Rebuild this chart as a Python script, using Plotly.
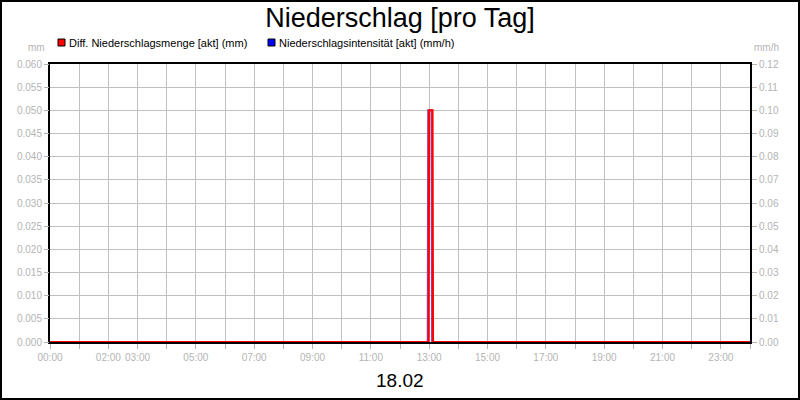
import plotly.graph_objects as go

# Diff. Niederschlagsmenge (mm), left axis
menge_time = ["2024-02-18 00:00", "2024-02-18 12:59", "2024-02-18 13:00",
              "2024-02-18 13:07", "2024-02-18 13:08", "2024-02-19 00:00"]
menge_val = [0.0, 0.0, 0.05, 0.05, 0.0, 0.0]

# Niederschlagsintensität (mm/h), right axis
intens_time = ["2024-02-18 00:00", "2024-02-18 12:57", "2024-02-18 12:58",
               "2024-02-18 13:05", "2024-02-18 13:06", "2024-02-19 00:00"]
intens_val = [0.0, 0.0, 0.10, 0.10, 0.0, 0.0]

hours = [f"2024-02-18 {h:02d}:00" for h in range(24)] + ["2024-02-19 00:00"]
labelled = {0, 2, 3, 5, 7, 9, 11, 13, 15, 17, 19, 21, 23}
hour_text = [f"{h:02d}:00" if h in labelled else "" for h in range(25)]

legend_names = ["Diff. Niederschlagsmenge [akt] (mm)", "Niederschlagsintensität [akt] (mm/h)"]
legend_colors = ["#ff0000", "#0000ff"]

grey = "#b4b4b4"
font = "Liberation Sans, Arial, sans-serif"

# plot area in pixels: x 50..750, y 64..342
def px(x):
    return (x - 50) / 700


def py(y):
    return (342 - y) / 278


fig = go.Figure()
# intensity on the primary (right) axis so the mm series overlays it
fig.add_trace(go.Scatter(x=intens_time, y=intens_val, yaxis="y", mode="lines",
                         line=dict(color="#9a3ca8", width=2), showlegend=False))
fig.add_trace(go.Scatter(x=menge_time, y=menge_val, yaxis="y2", mode="lines",
                         line=dict(color="#ff0000", width=2), showlegend=False))

axis_common = dict(showgrid=True, gridcolor="#c0c0c0", ticks="outside", ticklen=5, tickcolor=grey,
                   zeroline=False, automargin=False, tickfont=dict(color=grey, size=10))

fig.update_layout(
    width=800, height=400,
    margin=dict(l=50, r=50, t=64, b=58),
    paper_bgcolor="white", plot_bgcolor="white",
    font=dict(family=font, size=10, color=grey),
    showlegend=False,
    title=dict(text="Niederschlag [pro Tag]", x=0.5, xref="paper", y=0.955, yanchor="middle",
               font=dict(size=27, color="black", family=font)),
    xaxis=dict(range=["2024-02-18 00:00", "2024-02-19 00:00"], tickmode="array",
               tickvals=hours, ticktext=hour_text, tickangle=0,
               showline=True, linecolor="black", linewidth=2, mirror=True, **axis_common),
    yaxis=dict(range=[0, 0.12], dtick=0.01, tickformat=".2f", side="right",
               showline=True, linecolor="black", linewidth=2, mirror=True, **axis_common),
    yaxis2=dict(range=[0, 0.06], dtick=0.005, tickformat=".3f", overlaying="y", side="left",
                showgrid=False, ticks="outside", ticklen=5, tickcolor=grey, showline=False,
                zeroline=False, automargin=False, tickfont=dict(color=grey, size=10)),
    annotations=[
        dict(text="mm", xref="paper", yref="paper", x=px(47), y=py(48), xanchor="right",
             yanchor="middle", showarrow=False, font=dict(size=10, color=grey)),
        dict(text="mm/h", xref="paper", yref="paper", x=px(752), y=py(48), xanchor="left",
             yanchor="middle", showarrow=False, font=dict(size=10, color=grey)),
        dict(text="18.02", xref="paper", yref="paper", x=0.5, y=py(380), yanchor="middle",
             showarrow=False, font=dict(size=19, color="black")),
    ] + [
        dict(text=name, xref="paper", yref="paper", x=px(x0 + 9), y=py(43), xanchor="left",
             yanchor="middle", showarrow=False, font=dict(size=11, color="black"))
        for name, x0 in zip(legend_names, [58, 268])
    ],
    shapes=[dict(type="rect", xref="paper", yref="paper", x0=px(1), x1=px(799),
                 y0=py(399), y1=py(1), line=dict(color="black", width=2))] + [
        dict(type="rect", xref="paper", yref="paper", x0=px(x0), x1=px(x0 + 7),
             y0=py(46), y1=py(39), fillcolor=c, line=dict(color="black", width=1))
        for c, x0 in zip(legend_colors, [58, 268])
    ],
)

fig.write_html("out.html", config={"displayModeBar": False},
               post_script="document.body.style.margin = '0';")
